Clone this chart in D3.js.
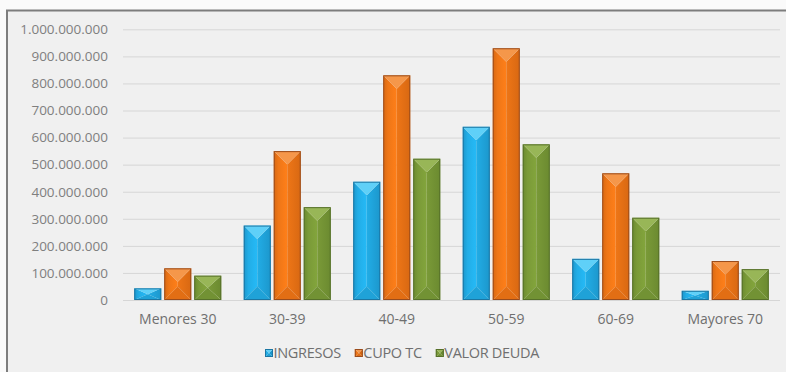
<!DOCTYPE html>
<html>
<head>
<meta charset="utf-8">
<script src="https://cdn.jsdelivr.net/npm/d3@7"></script>
<style>
  html, body { margin: 0; padding: 0; background: #fafafa; }
  svg { display: block; }
  text { font-family: "Open Sans", sans-serif; }
</style>
</head>
<body>
<svg id="chart" width="786" height="372"></svg>
<script>
// Age groups and the three amounts per group (pesos)
const categories = ["Menores 30", "30-39", "40-49", "50-59", "60-69", "Mayores 70"];
const ingresos   = [43e6, 275e6, 437e6, 640e6, 152e6, 34e6];
const cupoTC     = [117e6, 550e6, 830e6, 930e6, 468e6, 144e6];
const valorDeuda = [90e6, 343e6, 522e6, 575e6, 304e6, 114e6];
const seriesNames = ["INGRESOS", "CUPO TC", "VALOR DEUDA"];
const yTicks = [0, 1e8, 2e8, 3e8, 4e8, 5e8, 6e8, 7e8, 8e8, 9e8, 1e9];

const palette = {
  "INGRESOS":    { base: "#22ade6", light: "#5fd0f8", dark: "#1c97cc", bottom: "#1fa2d8", edge: "#1b76a3" },
  "CUPO TC":     { base: "#ee7617", light: "#f5974a", dark: "#d86812", bottom: "#e26e14", edge: "#9a4c1c" },
  "VALOR DEUDA": { base: "#7a9a38", light: "#98b657", dark: "#6b8a30", bottom: "#729234", edge: "#56702a" }
};

const seriesValues = { "INGRESOS": ingresos, "CUPO TC": cupoTC, "VALOR DEUDA": valorDeuda };
const rows = categories.map((c, i) => ({
  category: c,
  values: seriesNames.map(s => ({ series: s, value: seriesValues[s][i] }))
}));

const svg = d3.select("#chart");

// chart frame
svg.append("rect")
  .attr("x", 7).attr("y", 10.5).attr("width", 820).attr("height", 420)
  .attr("fill", "#f0f0f0").attr("stroke", "#7d7d7d").attr("stroke-width", 2);

const plot = { left: 123, right: 780, top: 29.3, bottom: 300 };

const x = d3.scaleBand().domain(categories)
  .range([plot.left, plot.right]).paddingInner(0.2055).paddingOuter(0.10275);
const xInner = d3.scaleBand().domain(seriesNames)
  .range([0, x.bandwidth()]).paddingInner(0.1).paddingOuter(0);
const y = d3.scaleLinear().domain([0, 1e9]).range([plot.bottom, plot.top]);

const locale = d3.formatLocale({ decimal: ",", thousands: ".", grouping: [3], currency: ["$", ""] });
const fmt = locale.format(",");

// gridlines
const grid = svg.append("g").attr("transform", `translate(${plot.left},0)`)
  .call(d3.axisRight(y).tickValues(yTicks).tickSize(plot.right - plot.left).tickFormat(""));
grid.select(".domain").remove();
grid.selectAll(".tick line").attr("stroke", "#d6d6d6").attr("stroke-width", 1);

// y labels
const yAxis = svg.append("g").attr("transform", `translate(${plot.left},0)`)
  .call(d3.axisLeft(y).tickValues(yTicks).tickSize(0).tickPadding(15).tickFormat(fmt));
yAxis.select(".domain").remove();
yAxis.selectAll("text").attr("fill", "#7f7f7f").style("font-size", "13.5px")
  .style("font-family", "'Open Sans', sans-serif");

// x labels
const xAxis = svg.append("g").attr("transform", `translate(0,${plot.bottom})`)
  .call(d3.axisBottom(x).tickSize(0).tickPadding(14));
xAxis.select(".domain").remove();
xAxis.selectAll("text").attr("fill", "#6f6f6f").style("font-size", "14px")
  .style("font-family", "'Open Sans', sans-serif");

// bevelled bars
function facets(x0, x1, y0, y1) {
  const xc = (x0 + x1) / 2;
  const d = Math.min((x1 - x0) / 2, (y1 - y0) / 2);
  return {
    top:    [[x0, y0], [x1, y0], [xc, y0 + d]],
    left:   [[x0, y0], [xc, y0 + d], [xc, y1 - d], [x0, y1]],
    right:  [[x1, y0], [xc, y0 + d], [xc, y1 - d], [x1, y1]],
    bottom: [[x0, y1], [xc, y1 - d], [x1, y1]]
  };
}
const pts = p => p.map(q => q.join(",")).join(" ");

const defs = svg.append("defs");
seriesNames.forEach((s, i) => {
  const c = palette[s];
  const gl = defs.append("linearGradient").attr("id", "gl" + i).attr("x1", 0).attr("x2", 1).attr("y1", 0).attr("y2", 0);
  gl.append("stop").attr("offset", "0%").attr("stop-color", c.dark);
  gl.append("stop").attr("offset", "35%").attr("stop-color", c.base);
  gl.append("stop").attr("offset", "100%").attr("stop-color", d3.color(c.base).brighter(0.2));
  const gr = defs.append("linearGradient").attr("id", "gr" + i).attr("x1", 0).attr("x2", 1).attr("y1", 0).attr("y2", 0);
  gr.append("stop").attr("offset", "0%").attr("stop-color", c.base);
  gr.append("stop").attr("offset", "100%").attr("stop-color", c.dark);
});

const groups = svg.append("g").selectAll("g").data(rows).join("g")
  .attr("transform", d => `translate(${x(d.category)},0)`);

groups.selectAll("g.bar").data(d => d.values).join("g").attr("class", "bar")
  .each(function (d) {
    const i = seriesNames.indexOf(d.series);
    const c = palette[d.series];
    const x0 = xInner(d.series), x1 = x0 + xInner.bandwidth();
    const f = facets(x0, x1, y(d.value), y(0));
    const g = d3.select(this);
    g.append("polygon").attr("points", pts(f.left)).attr("fill", `url(#gl${i})`);
    g.append("polygon").attr("points", pts(f.right)).attr("fill", `url(#gr${i})`);
    g.append("polygon").attr("points", pts(f.top)).attr("fill", c.light);
    g.append("polygon").attr("points", pts(f.bottom)).attr("fill", c.bottom);
    g.append("rect").attr("x", x0 + 0.5).attr("y", y(d.value) + 0.5)
      .attr("width", xInner.bandwidth() - 1).attr("height", Math.max(0, y(0) - y(d.value) - 1))
      .attr("fill", "none").attr("stroke", c.edge).attr("stroke-width", 1);
  });

// legend
const legend = svg.append("g").attr("transform", "translate(265,353)");
let lx = 0;
seriesNames.forEach((s, i) => {
  const c = palette[s];
  const item = legend.append("g").attr("transform", `translate(${lx},0)`);
  const f = facets(0, 8, -4, 4);
  item.append("polygon").attr("points", pts(f.left)).attr("fill", c.base);
  item.append("polygon").attr("points", pts(f.right)).attr("fill", c.dark);
  item.append("polygon").attr("points", pts(f.top)).attr("fill", c.light);
  item.append("polygon").attr("points", pts(f.bottom)).attr("fill", c.bottom);
  item.append("rect").attr("x", 0.5).attr("y", -3.5).attr("width", 7).attr("height", 7)
    .attr("fill", "none").attr("stroke", c.edge).attr("stroke-width", 1);
  const t = item.append("text").attr("x", 8.5).attr("y", 0).attr("dy", "0.35em")
    .attr("fill", "#6f6f6f").style("font-size", "14.5px").style("letter-spacing", "-0.3px")
    .text(s);
  lx += 8.5 + t.node().getComputedTextLength() + 14;
});
</script>
</body>
</html>
